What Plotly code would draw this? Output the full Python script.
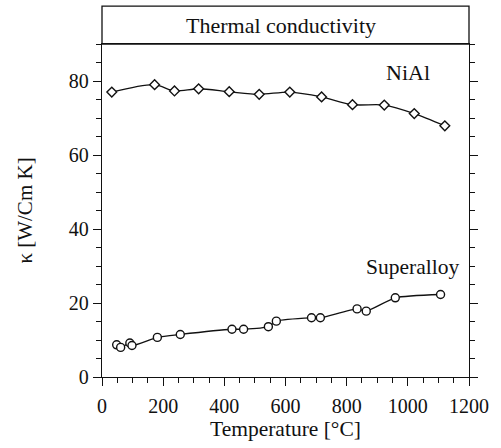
import plotly.graph_objects as go

# NiAl measurements (temperature in °C, conductivity in W/Cm K)
nial_temp = [32, 172, 237, 316, 416, 514, 614, 718, 819, 923, 1021, 1121]
nial_kappa = [77.0, 79.0, 77.3, 77.9, 77.1, 76.4, 77.0, 75.7, 73.6, 73.5, 71.2, 67.9]

# Superalloy measurements
sup_temp = [48, 61, 91, 98, 181, 256, 425, 463, 544, 570, 685, 714, 834, 864, 959, 1107]
sup_kappa = [8.7, 8.0, 9.2, 8.5, 10.7, 11.5, 12.9, 12.9, 13.6, 15.1, 16.0, 16.0, 18.4, 17.8, 21.4, 22.3]

x_ticks = [0, 200, 400, 600, 800, 1000, 1200]
y_ticks = [0, 20, 40, 60, 80]

FONT = "Liberation Serif, Times New Roman, serif"
INK = "#111111"

fig = go.Figure()

fig.add_trace(go.Scatter(
    x=nial_temp, y=nial_kappa, mode="lines+markers",
    line=dict(color=INK, width=1.3, shape="spline", smoothing=0.8),
    marker=dict(symbol="diamond", size=7.5, color="white", line=dict(width=1.4, color=INK)),
    showlegend=False,
))

fig.add_trace(go.Scatter(
    x=sup_temp, y=sup_kappa, mode="lines+markers",
    line=dict(color=INK, width=1.3, shape="spline", smoothing=0.6),
    marker=dict(symbol="circle", size=8, color="white", line=dict(width=1.4, color=INK)),
    showlegend=False,
))

fig.add_annotation(x=1002, y=82.2, text="NiAl", showarrow=False,
                   font=dict(family=FONT, size=22, color=INK))
fig.add_annotation(x=1015, y=29.7, text="Superalloy", showarrow=False,
                   font=dict(family=FONT, size=21.5, color=INK))

# Header band above the plotting area
fig.add_shape(type="rect", xref="paper", yref="paper", x0=0, x1=1, y0=1, y1=1.114,
              line=dict(color=INK, width=1.3), fillcolor="rgba(0,0,0,0)")
fig.add_annotation(xref="paper", yref="paper", x=0.487, y=1.057, yanchor="middle",
                   text="Thermal conductivity", showarrow=False,
                   font=dict(family=FONT, size=22, color=INK))

fig.update_xaxes(
    range=[0, 1200], tickvals=x_ticks, ticktext=[str(v) for v in x_ticks],
    ticks="outside", ticklen=8, tickwidth=1.3, tickcolor=INK, ticklabelstandoff=3,
    minor=dict(dtick=50, ticks="outside", ticklen=5, tickwidth=1.2, tickcolor=INK, showgrid=False),
    showline=True, linecolor=INK, linewidth=1.3, mirror=True,
    showgrid=False, zeroline=False,
    tickfont=dict(family=FONT, size=20, color=INK),
    title=dict(text="Temperature [°C]", font=dict(family=FONT, size=21.5, color=INK), standoff=4),
)
fig.update_yaxes(
    range=[0, 90], tickvals=y_ticks, ticktext=[str(v) for v in y_ticks],
    ticks="outside", ticklen=8, tickwidth=1.3, tickcolor=INK,
    minor=dict(dtick=5, ticks="outside", ticklen=5, tickwidth=1.2, tickcolor=INK, showgrid=False),
    showline=True, linecolor=INK, linewidth=1.3, mirror="ticks",
    showgrid=False, zeroline=False,
    tickfont=dict(family=FONT, size=20, color=INK),
    title=dict(text="κ [W/Cm K]", font=dict(family=FONT, size=21, color=INK), standoff=30),
)

fig.update_layout(
    width=501, height=448,
    margin=dict(l=102, r=30, t=44, b=70),
    paper_bgcolor="white", plot_bgcolor="white",
)

fig.write_html("out.html")
